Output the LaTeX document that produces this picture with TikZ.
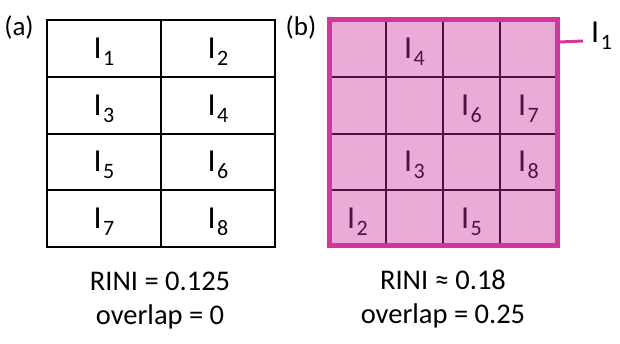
\documentclass[tikz,border=0pt]{standalone}
\usepackage{fontspec}
\setmainfont{Carlito}
\definecolor{pinkfill}{HTML}{E9ACD6}
\definecolor{pinkline}{HTML}{D3369A}
\definecolor{darkline}{HTML}{4E1142}
\newcommand{\lbl}[1]{I\kern1.5pt\raisebox{-7pt}{\fontsize{22}{22}\selectfont #1}}
\tikzset{
  gridA/.style={line width=2.8pt, black},
  gridB/.style={line width=2.5pt, darkline},
  celltxt/.style={anchor=base, inner sep=0pt, font=\fontsize{32}{32}\selectfont},
  panel/.style={inner sep=0pt, font=\fontsize{27}{27}\selectfont},
  caption/.style={anchor=base, inner sep=0pt, font=\fontsize{28.5}{28.5}\selectfont},
}
\begin{document}
\begin{tikzpicture}[x=1pt,y=-1pt]
\useasboundingbox (0,0) rectangle (620,344);
% panel labels
\node[panel] (pa) at (19,28) {(a)};
\node[panel] (pb) at (301,28) {(b)};
% left grid
\draw[gridA] (47,20) rectangle (275,247);
\draw[gridA] (161,20) -- (161,247);
\foreach \y in {77,134,190} \draw[gridA] (47,\y) -- (275,\y);
\node[celltxt] (a1) at (104,58.5) {\lbl{1}};
\node[celltxt] (a2) at (218,58.5) {\lbl{2}};
\node[celltxt] (a3) at (104,115.5) {\lbl{3}};
\node[celltxt] (a4) at (218,115.5) {\lbl{4}};
\node[celltxt] (a5) at (104,172) {\lbl{5}};
\node[celltxt] (a6) at (218,172) {\lbl{6}};
\node[celltxt] (a7) at (104,228.5) {\lbl{7}};
\node[celltxt] (a8) at (218,228.5) {\lbl{8}};
% right grid
\fill[pinkfill] (329,20) rectangle (557,246);
\foreach \x in {386,443,500} \draw[gridB] (\x,20) -- (\x,246);
\foreach \y in {77,134,190} \draw[gridB] (329,\y) -- (557,\y);
\draw[pinkline, line width=5pt] (329,20) rectangle (557,246);
\begin{scope}[every node/.append style={text=darkline}]
\node[celltxt] (b4) at (414.5,58.5) {\lbl{4}};
\node[celltxt] (b6) at (471.5,115.5) {\lbl{6}};
\node[celltxt] (b7) at (528.5,115.5) {\lbl{7}};
\node[celltxt] (b3) at (414.5,172) {\lbl{3}};
\node[celltxt] (b8) at (528.5,172) {\lbl{8}};
\node[celltxt] (b2) at (357.5,228.5) {\lbl{2}};
\node[celltxt] (b5) at (471.5,228.5) {\lbl{5}};
\end{scope}
% I1 callout
\node[celltxt, anchor=base west] (b1) at (591,43) {\lbl{1}};
\coordinate (c1) at (559.5,42);
\draw[pinkline, line width=3pt] (c1) -- (583,41);
% captions
\node[caption] (ra) at (160,290) {RINI = 0.125};
\node[caption] (oa) at (160,324) {overlap = 0};
\node[caption] (rb) at (443,289) {RINI ≈ 0.18};
\node[caption] (ob) at (443,323) {overlap = 0.25};
\end{tikzpicture}
\end{document}
